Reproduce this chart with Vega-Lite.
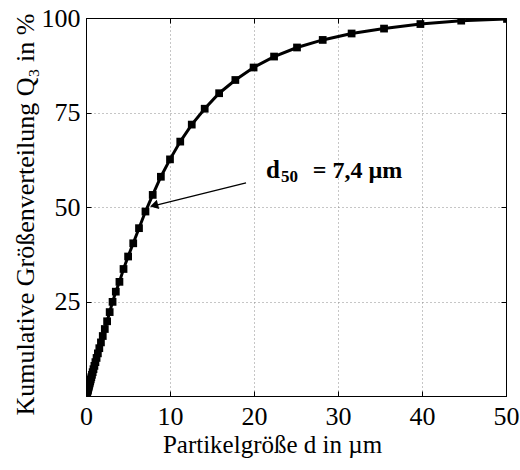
{
  "$schema": "https://vega.github.io/schema/vega-lite/v6.json",
  "autosize": "none",
  "width": 420,
  "height": 378,
  "padding": {"left": 86, "top": 18, "right": 14, "bottom": 74},
  "background": "white",
  "config": {
    "view": {"stroke": "black", "strokeWidth": 1},
    "font": "Liberation Serif"
  },
  "datasets": {
    "q3": [
      {"d": 0.1, "q": 0.72}, {"d": 0.112, "q": 0.81}, {"d": 0.126, "q": 0.92}, {"d": 0.141, "q": 1.03},
      {"d": 0.158, "q": 1.17}, {"d": 0.178, "q": 1.33}, {"d": 0.2, "q": 1.5}, {"d": 0.224, "q": 1.69},
      {"d": 0.251, "q": 1.9}, {"d": 0.282, "q": 2.14}, {"d": 0.316, "q": 2.42}, {"d": 0.355, "q": 2.73},
      {"d": 0.398, "q": 3.08}, {"d": 0.447, "q": 3.48}, {"d": 0.501, "q": 3.91}, {"d": 0.562, "q": 4.4},
      {"d": 0.631, "q": 4.96}, {"d": 0.708, "q": 5.61}, {"d": 0.794, "q": 6.3}, {"d": 0.891, "q": 7.09},
      {"d": 1.0, "q": 7.97}, {"d": 1.122, "q": 8.96}, {"d": 1.259, "q": 10.07}, {"d": 1.413, "q": 11.28},
      {"d": 1.585, "q": 12.65}, {"d": 1.778, "q": 14.18}, {"d": 1.995, "q": 15.87}, {"d": 2.239, "q": 17.72},
      {"d": 2.512, "q": 19.77}, {"d": 2.818, "q": 22.2}, {"d": 3.162, "q": 24.9}, {"d": 3.548, "q": 27.6},
      {"d": 3.981, "q": 30.2}, {"d": 4.467, "q": 33.6}, {"d": 5.012, "q": 36.9}, {"d": 5.623, "q": 40.4},
      {"d": 6.31, "q": 44.4}, {"d": 7.079, "q": 48.8}, {"d": 7.943, "q": 53.2}, {"d": 8.913, "q": 58.0},
      {"d": 10.0, "q": 62.6}, {"d": 11.22, "q": 67.3}, {"d": 12.59, "q": 71.8}, {"d": 14.13, "q": 76.0},
      {"d": 15.85, "q": 80.1}, {"d": 17.78, "q": 83.6}, {"d": 19.95, "q": 86.9}, {"d": 22.39, "q": 89.8},
      {"d": 25.12, "q": 92.2}, {"d": 28.18, "q": 94.2}, {"d": 31.62, "q": 95.9}, {"d": 35.48, "q": 97.2},
      {"d": 39.81, "q": 98.4}, {"d": 44.67, "q": 99.3}, {"d": 50.12, "q": 99.75}
    ]
  },
  "resolve": {"axis": {"x": "independent", "y": "independent"}},
  "layer": [
    {
      "data": {"name": "q3"},
      "mark": {"type": "line", "color": "black", "strokeWidth": 3, "clip": true},
      "encoding": {
        "x": {
          "field": "d", "type": "quantitative",
          "scale": {"domain": [0, 50], "nice": false, "zero": false},
          "axis": {
            "orient": "bottom", "values": [0, 10, 20, 30, 40, 50],
            "labelFont": "Liberation Serif", "labelFontSize": 26, "labelColor": "black",
            "labelFlush": false, "labelPadding": 12, "labelBaseline": "top",
            "tickSize": -5, "tickColor": "black", "domainColor": "black",
            "grid": true, "gridDash": [1, 3], "gridColor": "#8c8c8c", "gridWidth": 1,
            "title": "Partikelgröße d in µm",
            "titleFont": "Liberation Serif", "titleFontSize": 25, "titleFontWeight": "normal", "titleColor": "black",
            "titleX": 186, "titleY": 56, "titleBaseline": "alphabetic", "titleAlign": "center"
          }
        },
        "y": {
          "field": "q", "type": "quantitative",
          "scale": {"domain": [0, 100], "nice": false},
          "axis": {
            "orient": "left", "values": [25, 50, 75, 100],
            "labelFont": "Liberation Serif", "labelFontSize": 26, "labelColor": "black",
            "labelFlush": false, "labelPadding": 11, "labelBaseline": "middle",
            "tickSize": -5, "tickColor": "black", "domainColor": "black",
            "grid": true, "gridDash": [1, 3], "gridColor": "#8c8c8c", "gridWidth": 1,
            "title": "Kumulative Größenverteilung Q₃ in %",
            "titleFont": "Liberation Serif", "titleFontSize": 26, "titleFontWeight": "normal", "titleColor": "black",
            "titleX": -53, "titleY": 196, "titleBaseline": "alphabetic", "titleAlign": "center", "titleAngle": -90
          }
        }
      }
    },
    {
      "data": {"name": "q3"},
      "mark": {"type": "point", "shape": "square", "filled": true, "color": "black", "size": 60, "opacity": 1, "clip": true},
      "encoding": {
        "x": {
          "field": "d", "type": "quantitative",
          "axis": {
            "orient": "top", "values": [0, 10, 20, 30, 40, 50], "labels": false,
            "tickSize": -5, "tickColor": "black", "domainColor": "black", "grid": false, "title": null
          }
        },
        "y": {
          "field": "q", "type": "quantitative",
          "axis": {
            "orient": "right", "values": [0, 25, 50, 75, 100], "labels": false,
            "tickSize": -5, "tickColor": "black", "domainColor": "black", "grid": false, "title": null
          }
        }
      }
    },
    {
      "data": {"values": [{"d": 19.05, "q": 56.4}, {"d": 7.9, "q": 50.2}]},
      "mark": {"type": "line", "color": "black", "strokeWidth": 1.3},
      "encoding": {
        "x": {"field": "d", "type": "quantitative", "axis": null},
        "y": {"field": "q", "type": "quantitative", "axis": null}
      }
    },
    {
      "data": {"values": [{"d": 8.1, "q": 50.4}]},
      "mark": {"type": "point", "shape": "triangle-left", "filled": true, "color": "black", "size": 90, "angle": -15, "opacity": 1},
      "encoding": {
        "x": {"field": "d", "type": "quantitative", "axis": null},
        "y": {"field": "q", "type": "quantitative", "axis": null}
      }
    },
    {
      "data": {"values": [{"d": 21.43, "q": 57.67, "t": "d"}]},
      "mark": {"type": "text", "font": "Liberation Serif", "fontWeight": "bold", "fontSize": 25, "align": "left", "baseline": "alphabetic", "color": "black"},
      "encoding": {
        "x": {"field": "d", "type": "quantitative", "axis": null},
        "y": {"field": "q", "type": "quantitative", "axis": null},
        "text": {"field": "t"}
      }
    },
    {
      "data": {"values": [{"d": 23.2, "q": 56.6, "t": "50"}]},
      "mark": {"type": "text", "font": "Liberation Serif", "fontWeight": "bold", "fontSize": 17, "align": "left", "baseline": "alphabetic", "color": "black"},
      "encoding": {
        "x": {"field": "d", "type": "quantitative", "axis": null},
        "y": {"field": "q", "type": "quantitative", "axis": null},
        "text": {"field": "t"}
      }
    },
    {
      "data": {"values": [{"d": 27.0, "q": 57.67, "t": "= 7,4 µm"}]},
      "mark": {"type": "text", "font": "Liberation Serif", "fontWeight": "bold", "fontSize": 24, "align": "left", "baseline": "alphabetic", "color": "black"},
      "encoding": {
        "x": {"field": "d", "type": "quantitative", "axis": null},
        "y": {"field": "q", "type": "quantitative", "axis": null},
        "text": {"field": "t"}
      }
    }
  ]
}
